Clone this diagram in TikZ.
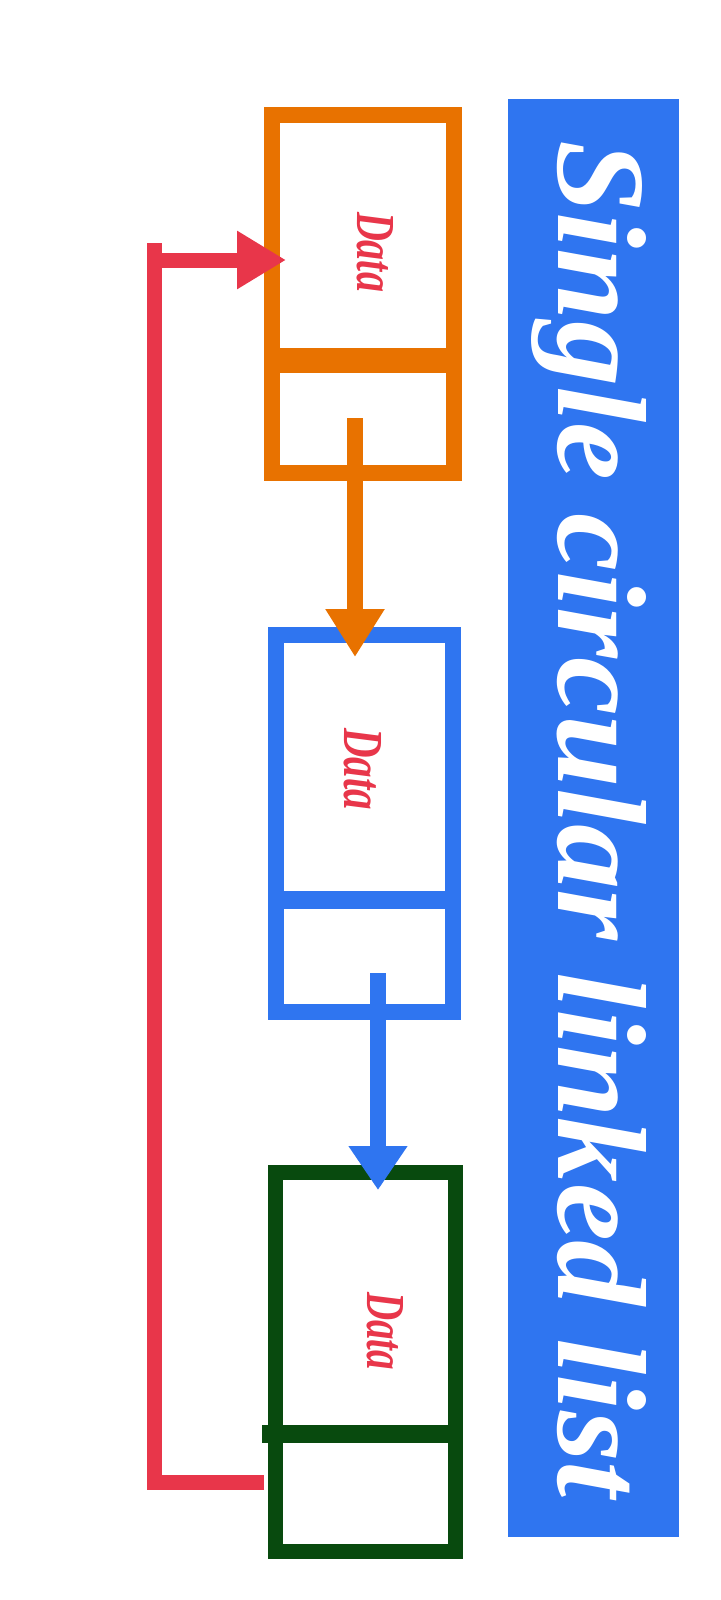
\documentclass[tikz,border=0pt]{standalone}
\usepackage{graphicx}
\usepackage{fontspec}
\setmainfont{Liberation Serif}
\usetikzlibrary{arrows.meta}

\definecolor{listblue}{RGB}{47,117,240}
\definecolor{listorange}{RGB}{232,114,0}
\definecolor{listgreen}{RGB}{8,74,14}
\definecolor{listred}{RGB}{232,54,74}

\begin{document}
\begin{tikzpicture}[x=1pt, y=-1pt,
    cell/.style = {draw, inner sep=0pt},
    datatext/.style = {text=listred, inner sep=0pt, rotate=-90},
    ptr/.style = {line width=16pt, shorten >=-30pt, -{Triangle[length=48pt,width=56pt]}},
    backlink/.style = {listred, line width=15pt, shorten >=-14pt, -{Triangle[length=49pt,width=55pt]}},
    banner/.style = {fill=listblue, inner sep=0pt, minimum width=171pt, minimum height=1438pt}]
    \useasboundingbox[fill=white] (0,0) rectangle (720,1600);
    % title band
    \node[banner] (band) at (593.5,818) {};
    \node[text=white, inner sep=0pt, rotate=-90, anchor=base west] (title) at (558,140)
        {\resizebox{1357pt}{88pt}{\bfseries\itshape Single circular linked list}};
    % list nodes
    \node[cell, listorange, line width=16pt, minimum width=182pt, minimum height=358pt] (n1) at (363,294) {};
    \node[cell, listblue, line width=16pt, minimum width=177pt, minimum height=377pt] (n2) at (364.5,823.5) {};
    \node[cell, listgreen, line width=15pt, minimum width=180pt, minimum height=379pt] (n3) at (365.5,1362) {};
    \draw[listorange, line width=25pt] (264,360) -- (462,360);
    \draw[listblue, line width=18pt] (268,900) -- (461,900);
    \draw[listgreen, line width=18pt] (262,1434) -- (463,1434);
    \node[datatext] (d1) at (375,252) {\resizebox{80pt}{36pt}{\bfseries\itshape Data}};
    \node[datatext] (d2) at (363,769) {\resizebox{82pt}{37pt}{\bfseries\itshape Data}};
    \node[datatext] (d3) at (385,1331) {\resizebox{78pt}{36pt}{\bfseries\itshape Data}};
    % next pointers
    \coordinate (n1next) at (355,418);
    \coordinate (n2next) at (378,973);
    \coordinate (n3next) at (264,1482);
    \coordinate (n1in) at (272,260);
    \draw[ptr, listorange] (n1next) -- (n1next |- n2.north);
    \draw[ptr, listblue, shorten >=-25pt, -{Triangle[length=44pt,width=56pt]}] (n2next) -- (n2next |- n3.north);
    \draw[backlink] (n3next) -- (154,1482) -- (154,260) -- (n1in);
    \draw[listred, line width=15pt] (154,262) -- (154,243);
\end{tikzpicture}
\end{document}
